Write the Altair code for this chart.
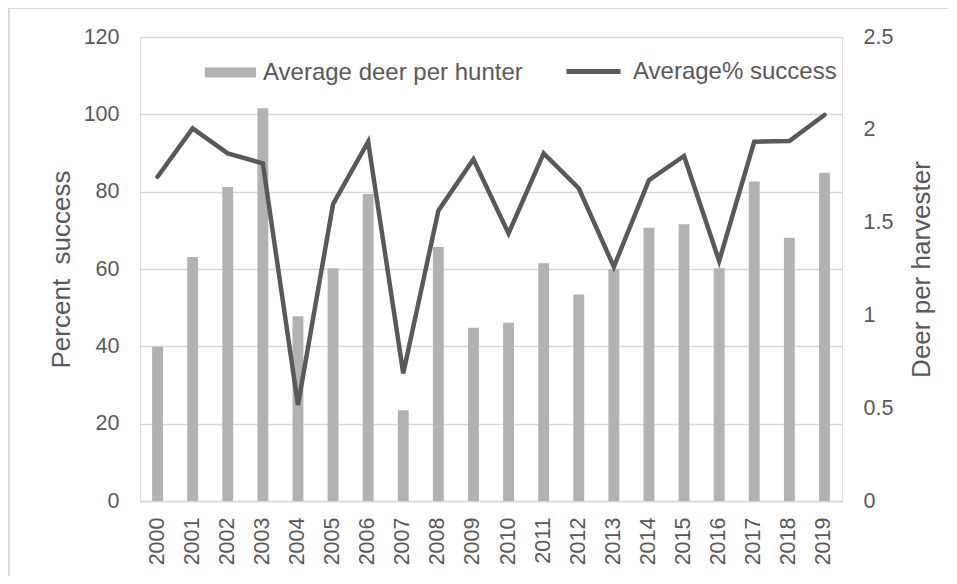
import altair as alt
import pandas as pd

years = ["2000", "2001", "2002", "2003", "2004", "2005", "2006", "2007", "2008", "2009",
         "2010", "2011", "2012", "2013", "2014", "2015", "2016", "2017", "2018", "2019"]
# bars, read on the left axis (0-120)
bar_values = [39.9, 63.1, 81.2, 101.6, 47.8, 60.2, 79.4, 23.5, 65.7, 44.8,
              46.1, 61.5, 53.4, 60.0, 70.7, 71.6, 60.2, 82.6, 68.1, 84.9]
# line, read on the right axis (0-2.5)
line_values = [1.747, 2.008, 1.873, 1.819, 0.517, 1.600, 1.936, 0.688, 1.564, 1.841,
               1.442, 1.873, 1.685, 1.262, 1.729, 1.859, 1.293, 1.936, 1.940, 2.080]
bar_name = "Average deer per hunter"
line_name = "Average% success"
left_title = "Percent\u00a0\u00a0success"
right_title = "Deer per harvester"
left_ticks = [0, 20, 40, 60, 80, 100, 120]
right_ticks = [0, 0.5, 1, 1.5, 2, 2.5]

FONT = "Liberation Sans"
TXT = "#595959"
GRID = "#d9d9d9"

df = pd.DataFrame({"year": years, "bar": bar_values, "line": line_values,
                   "s1": bar_name, "s2": line_name})

base = alt.Chart(df)

x_enc = alt.X("year:N", sort=years, title=None,
              scale=alt.Scale(paddingInner=0.69, paddingOuter=0.345),
              axis=alt.Axis(labelAngle=270, labelPadding=16, ticks=False, domain=True,
                            grid=False, domainColor=GRID, domainWidth=1.5, labelFontSize=21.5,
                            labelColor=TXT, labelFont=FONT))

bars = base.mark_bar().encode(
    x=x_enc,
    y=alt.Y("bar:Q", scale=alt.Scale(domain=[0, 120], nice=False),
            axis=alt.Axis(values=left_ticks, title=left_title, grid=True,
                          gridColor=GRID, gridWidth=1.5, domain=False, ticks=False,
                          labelPadding=21, labelFontSize=21.5, labelColor=TXT, labelFont=FONT,
                          titleFontSize=26, titleColor=TXT, titleFont=FONT,
                          titleFontWeight="normal", titlePadding=9)),
    fill=alt.Fill("s1:N", title=None,
                  scale=alt.Scale(domain=[bar_name], range=["#b2b2b2"]),
                  legend=alt.Legend(orient="none", legendX=65, legendY=10,
                                    symbolType="M-1,-0.2H1V0.2H-1Z", symbolSize=2601,
                                    symbolStrokeWidth=0, labelFontSize=24, labelColor=TXT,
                                    labelFont=FONT, labelOffset=7, labelLimit=0, padding=0)),
)

line = base.mark_line(strokeWidth=4.5, strokeJoin="miter", strokeCap="round").encode(
    x=alt.X("year:N", sort=years),
    y=alt.Y("line:Q", scale=alt.Scale(domain=[0, 2.5], nice=False),
            axis=alt.Axis(orient="right", values=right_ticks, title=right_title,
                          format="~g", grid=False, domain=False, ticks=False, labelPadding=21,
                          labelFontSize=21.5, labelColor=TXT, labelFont=FONT,
                          titleFontSize=26, titleColor=TXT, titleFont=FONT,
                          titleFontWeight="normal", titlePadding=42, titleAngle=270)),
    stroke=alt.Stroke("s2:N", title=None,
                      scale=alt.Scale(domain=[line_name], range=["#595959"]),
                      legend=alt.Legend(orient="none", legendX=424, legendY=5,
                                        symbolType="stroke", symbolSize=2916,
                                        symbolStrokeWidth=5, labelFontSize=24,
                                        labelColor=TXT, labelFont=FONT, labelOffset=10,
                                        labelLimit=0, padding=0)),
)

frame_df = pd.DataFrame({"k": [0]})
frame_left = alt.Chart(frame_df).mark_rule(color=GRID, strokeWidth=2).encode(
    x=alt.value(-131), y=alt.value(-29), y2=alt.value(620))
frame_top = alt.Chart(frame_df).mark_rule(color=GRID, strokeWidth=2).encode(
    x=alt.value(-131), x2=alt.value(900), y=alt.value(-29))

chart = alt.layer(bars, line, frame_left, frame_top).resolve_scale(
    y="independent", fill="independent", stroke="independent"
).properties(
    width=702, height=464,
    autosize=alt.AutoSizeParams(type="none"),
    padding={"left": 132, "top": 29, "right": 107, "bottom": 75},
).configure_view(stroke=None).configure(background="white")

chart.save("out.html", embed_options={"renderer": "svg", "actions": False})
